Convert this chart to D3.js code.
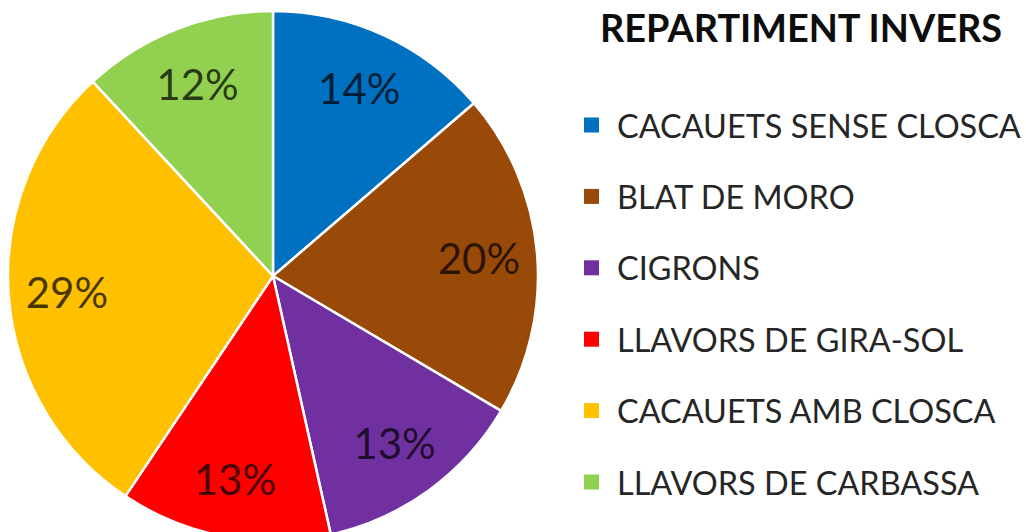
<!DOCTYPE html>
<html>
<head>
<meta charset="utf-8">
<script src="https://cdn.jsdelivr.net/npm/d3@7"></script>
<style>
html,body{margin:0;padding:0;background:#fff;}
svg{display:block;}
</style>
</head>
<body>
<svg id="chart" width="1026" height="532"></svg>
<script>
const title = "REPARTIMENT INVERS";
const categories = ["CACAUETS SENSE CLOSCA","BLAT DE MORO","CIGRONS","LLAVORS DE GIRA-SOL","CACAUETS AMB CLOSCA","LLAVORS DE CARBASSA"];
const values = [13.7, 19.8, 13.0, 12.9, 28.7, 11.9];
const labels = ["14%","20%","13%","13%","29%","12%"];
const colors = ["#0070C0","#9A4A08","#7030A0","#FF0000","#FFC000","#92D050"];

const svg = d3.select("#chart");
const W = 1026, H = 532;
const cx = 273, cy = 276, R = 265;

const pie = d3.pie().sort(null).value(d => d)(values);
const arc = d3.arc().innerRadius(0).outerRadius(R);
const labelArc = d3.arc().innerRadius(R*0.78).outerRadius(R*0.78);

const g = svg.append("g").attr("transform", `translate(${cx},${cy})`);
g.selectAll("path").data(pie).join("path")
  .attr("d", arc)
  .attr("fill", (d,i) => colors[i])
  .attr("stroke", "#fff")
  .attr("stroke-width", 2.5)
  .attr("stroke-linejoin", "round");

g.selectAll("text.pct").data(pie).join("text")
  .attr("class","pct")
  .attr("transform", d => `translate(${labelArc.centroid(d)})`)
  .attr("text-anchor","middle")
  .attr("dominant-baseline","central")
  .attr("font-family","Lato, 'Open Sans', sans-serif")
  .attr("font-size", 42)
  .attr("fill","#000")
  .attr("fill-opacity",0.72)
  .text((d,i) => labels[i]);

// Title
const t = svg.append("text")
  .attr("x", 801).attr("y", 42)
  .attr("text-anchor","middle")
  .attr("font-family","Lato, 'Open Sans', sans-serif")
  .attr("font-weight","bold")
  .attr("font-size", 32)
  .attr("fill","#0d0d0d")
  .text(title);
const tw = t.node().getComputedTextLength();
t.attr("font-size", 32 * 402 / tw);

// Legend
const rowY = d3.scalePoint().domain(categories).range([125, 482]);
const leg = svg.append("g");
const items = leg.selectAll("g").data(categories).join("g")
  .attr("transform", d => `translate(0,${rowY(d)})`);
items.append("rect")
  .attr("x", 584).attr("y", -7.5).attr("width", 15).attr("height", 15)
  .attr("fill", (d,i) => colors[i]);
const txt = items.append("text")
  .attr("x", 617).attr("y", 0)
  .attr("dominant-baseline","central")
  .attr("font-family","Lato, 'Open Sans', sans-serif")
  .attr("font-size", 32)
  .attr("fill","#262626")
  .text(d => d);
const lw = txt.nodes()[0].getComputedTextLength();
txt.attr("font-size", 32 * 404 / lw);
</script>
</body>
</html>
